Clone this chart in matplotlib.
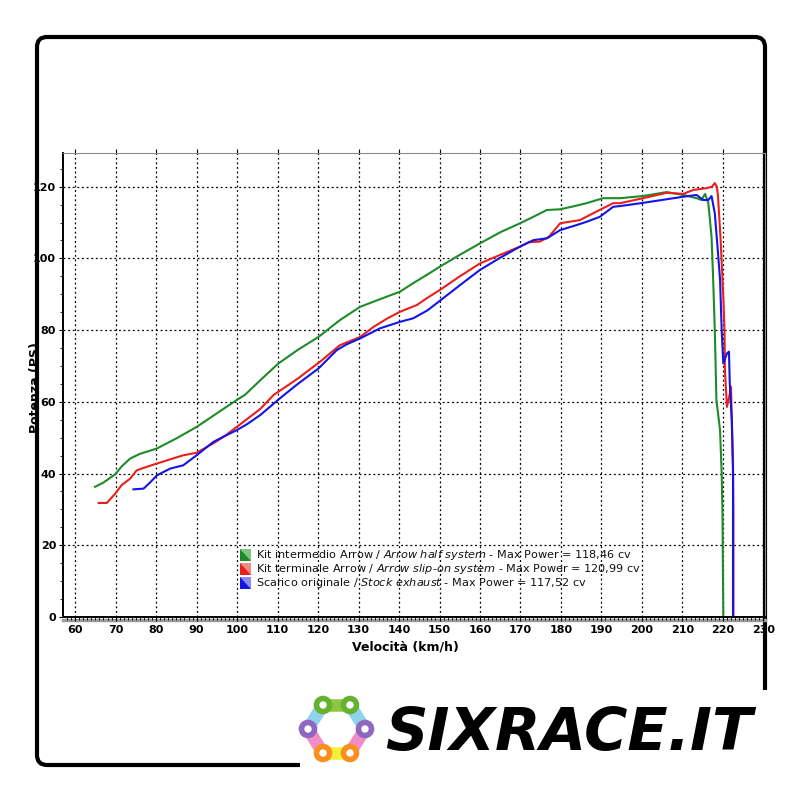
import numpy as np
import matplotlib
matplotlib.use('Agg')
import matplotlib.pyplot as plt
from matplotlib.patches import FancyBboxPatch, Rectangle, Circle, Polygon

# ---- data ----
v_half = [64.9, 67.0, 69.9, 71.5, 73.6, 76.0, 80.2, 85.0, 90.0, 95.0, 99.9, 102.0, 105.7,
          110.2, 115.0, 120.1, 125.4, 130.4, 135.0, 140.2, 143.5, 147.0, 150.1, 155.0,
          160.0, 165.0, 169.9, 173.0, 176.5, 179.8, 183.0, 186.3, 190.4, 194.6, 200.3,
          206.1, 210.2, 213.5, 214.7, 215.6, 216.4, 217.2, 217.6, 218.0, 218.4, 219.3,
          219.7, 219.9, 220.1]
p_half = [36.3, 37.5, 39.8, 42.0, 44.2, 45.5, 47.0, 49.8, 53.0, 56.8, 60.5, 62.0, 66.0,
          70.7, 74.5, 78.1, 82.8, 86.5, 88.5, 90.7, 93.1, 95.5, 97.7, 101.0,
          104.2, 107.3, 109.8, 111.5, 113.5, 113.7, 114.5, 115.4, 116.8, 116.8, 117.4,
          118.5, 117.7, 116.8, 116.3, 118.0, 115.4, 106.0, 94.0, 80.0, 60.5, 52.1,
          40.0, 28.9, 0.0]

v_slip = [65.8, 67.8, 69.9, 71.5, 73.6, 75.2, 78.0, 80.2, 83.0, 86.7, 90.0, 94.1, 97.0,
          99.9, 102.0, 105.7, 109.0, 115.0, 120.5, 125.4, 130.4, 133.7, 137.0, 140.2,
          144.4, 147.0, 150.1, 155.0, 160.0, 165.0, 169.9, 172.0, 174.8, 177.0, 179.8,
          184.7, 190.4, 192.9, 194.6, 200.3, 206.1, 210.2, 212.7, 216.0, 217.3, 218.0,
          218.5, 218.8, 219.4, 220.1, 220.4, 220.5, 221.0, 221.5, 222.0, 222.2, 222.5,
          222.6, 222.6]
p_slip = [31.8, 31.8, 34.4, 36.8, 38.6, 40.9, 42.0, 42.8, 43.8, 45.1, 45.8, 48.4, 50.5,
          53.0, 54.8, 58.0, 61.9, 66.5, 71.2, 75.8, 78.1, 80.9, 83.2, 85.1,
          87.0, 89.0, 91.2, 95.0, 98.6, 101.0, 103.3, 104.5, 104.7, 106.0, 109.8,
          110.7, 114.0, 115.4, 115.4, 116.8, 118.3, 118.0, 119.1, 119.6, 120.0, 121.0,
          120.0, 117.2, 106.0, 89.3, 80.0, 68.9, 58.6, 61.0, 64.2, 54.9, 42.8,
          28.9, 0.0]

v_stock = [74.4, 76.9, 78.5, 80.2, 83.5, 86.7, 90.0, 94.1, 97.0, 99.9, 102.5, 105.7,
           110.6, 115.0, 120.1, 124.6, 127.0, 130.4, 135.3, 140.2, 143.5, 147.0, 150.1,
           155.0, 160.0, 165.0, 169.9, 173.2, 176.5, 179.8, 183.0, 186.3, 189.6, 192.9,
           194.6, 200.3, 206.1, 210.2, 213.5, 215.1, 216.4, 217.2, 218.0, 218.8, 219.3,
           219.7, 220.1, 221.0, 221.5, 221.7, 222.2, 222.5, 222.5]
p_stock = [35.6, 35.8, 37.5, 39.5, 41.4, 42.3, 45.1, 48.8, 50.5, 52.1, 53.8, 56.3,
           61.0, 65.0, 69.3, 74.4, 76.0, 77.7, 80.5, 82.3, 83.3, 85.5, 88.2,
           92.5, 96.8, 100.2, 103.3, 105.1, 105.6, 107.9, 109.0, 110.2, 111.6, 114.4,
           114.6, 115.5, 116.5, 117.2, 117.7, 116.3, 116.3, 117.4, 112.6, 101.4, 94.0,
           80.0, 70.7, 73.5, 74.0, 65.0, 54.9, 40.0, 0.0]

x_ticks = list(range(60, 231, 10))
y_ticks = list(range(0, 121, 20))

legend_labels = [
    r'Kit intermedio Arrow / $\mathit{Arrow\ half\ system}$ - Max Power = 118,46 cv',
    r'Kit terminale Arrow / $\mathit{Arrow\ slip\text{-}on\ system}$ - Max Power = 120,99 cv',
    r'Scarico originale / $\mathit{Stock\ exhaust}$ - Max Power = 117,52 cv',
]
colors = ['#1f8a2a', '#e8201c', '#1414e6']
light = ['#7fc47f', '#f48a86', '#8a8af2']

plt.rcParams['mathtext.fontset'] = 'dejavusans'
narrow = ['Liberation Sans Narrow', 'DejaVu Sans']

fig = plt.figure(figsize=(8, 8), dpi=100)

# background layer in pixel coordinates (frame, legend, logo)
bg = fig.add_axes([0, 0, 1, 1], zorder=0)
bg.set_xlim(0, 800)
bg.set_ylim(800, 0)
bg.axis('off')

frame = FancyBboxPatch((37, 37), 728, 728, boxstyle='round,pad=0,rounding_size=10',
                       lw=3, ec='black', fc='none')
bg.add_patch(frame)
bg.add_patch(Rectangle((300, 690), 500, 110, fc='white', ec='none', zorder=2))
# shadow under the x axis
bg.plot([63, 765], [619.5, 619.5], color='#9a9a9a', lw=2.5, zorder=1)

# main chart
ax = fig.add_axes([63/800, 1 - 617/800, 702/800, 464/800], zorder=1)
ax.set_facecolor('none')
ax.plot(v_half, p_half, color=colors[0], lw=1.5)
ax.plot(v_slip, p_slip, color=colors[1], lw=1.5)
ax.plot(v_stock, p_stock, color=colors[2], lw=1.5)

ax.set_xlim(57.0, 230.4)
ax.set_ylim(0, 129.4)
ax.set_xticks(x_ticks)
ax.set_yticks(y_ticks)
ax.set_xticks(np.arange(58, 231, 1), minor=True)
ax.set_yticks(np.arange(0, 129, 5), minor=True)
ax.grid(True, which='major', color='black', ls=(0, (1.5, 2.2)), lw=0.9)
ax.set_axisbelow(True)

for s in ['top', 'right']:
    ax.spines[s].set_color('#8c8c8c')
    ax.spines[s].set_linewidth(0.8)
for s in ['left', 'bottom']:
    ax.spines[s].set_color('black')
    ax.spines[s].set_linewidth(1.4)

ax.tick_params(axis='x', which='major', direction='out', length=3, width=0.8,
               top=True, labelsize=8, pad=3)
ax.tick_params(axis='x', which='minor', direction='out', length=2, width=0.6)
ax.tick_params(axis='y', which='major', direction='out', length=3, width=0.8,
               labelsize=8, pad=2)
ax.tick_params(axis='y', which='minor', direction='out', length=2, width=0.6)
for lab in ax.get_xticklabels() + ax.get_yticklabels():
    lab.set_fontweight('bold')
    lab.set_family(narrow)

fig.text(405/800, 1 - 647/800, 'Velocità (km/h)', ha='center', va='center',
         fontsize=9, fontweight='bold', family=narrow)
fig.text(35/800, 1 - 388/800, 'Potenza (PS)', ha='center', va='center',
         rotation=90, fontsize=9, fontweight='bold', family=narrow, zorder=5)

# legend
rows = [555, 569, 583]
for y, lab, c, lc in zip(rows, legend_labels, colors, light):
    bg.add_patch(Rectangle((240, y - 6), 11, 12, fc=lc, ec='none', zorder=3))
    bg.add_patch(Polygon([(240, y - 6), (240, y + 6), (251, y + 6)], closed=True,
                         fc=c, ec='none', zorder=3))
    bg.text(256, y, lab, va='center', ha='left', fontsize=8.1, color='#111111', zorder=3)

# logo
links = [((323, 705), (350, 705), '#8dc63f'),
         ((323, 705), (308, 729), '#8fd3ea'),
         ((350, 705), (365, 729), '#8fd3ea'),
         ((308, 729), (323, 753), '#f28cc6'),
         ((365, 729), (350, 753), '#f28cc6'),
         ((323, 753), (350, 753), '#f4ef3a')]
for a, b, c in links:
    bg.plot([a[0], b[0]], [a[1], b[1]], color=c, lw=9, solid_capstyle='butt', zorder=4)
rings = [((323, 705), '#66b132'), ((350, 705), '#66b132'),
         ((308, 729), '#8e68c0'), ((365, 729), '#8e68c0'),
         ((323, 753), '#f7901e'), ((350, 753), '#f7901e')]
for (cx, cy), c in rings:
    bg.add_patch(Circle((cx, cy), 6.5, fc='white', ec=c, lw=4, zorder=5))
bg.text(385, 750, 'SIXRACE.IT', fontsize=42.5, fontweight='heavy', style='italic',
        color='black', ha='left', va='baseline', zorder=5)

fig.savefig('out.png', dpi=100, facecolor='white')
